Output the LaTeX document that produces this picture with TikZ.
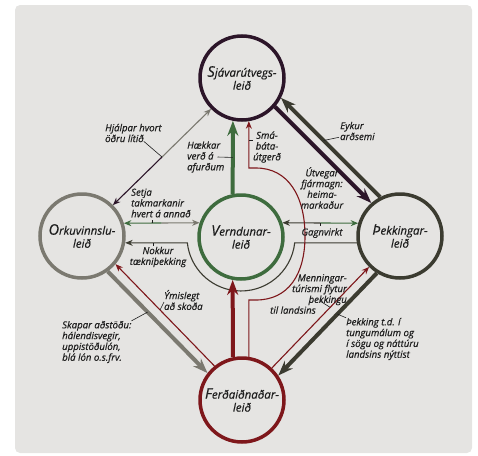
\documentclass[tikz,border=0pt]{standalone}
\usepackage{fontspec}
\setmainfont{Open Sans}[ItalicFeatures={FakeBold=0.5}]
\usetikzlibrary{arrows.meta,calc}
\definecolor{bakgrunnur}{HTML}{E5E4E2}
\definecolor{sjavlitur}{HTML}{2C1529}
\definecolor{orkulitur}{HTML}{7B7970}
\definecolor{vernlitur}{HTML}{3E6C3E}
\definecolor{thekklitur}{HTML}{3B3B30}
\definecolor{ferdlitur}{HTML}{7E171B}
\definecolor{letur}{HTML}{1E1E1E}
\newcommand\stafur[1]{{\fontsize{14.5}{13}\selectfont #1}}

\begin{document}
\begin{tikzpicture}[x=1pt,y=1pt,
    leid/.style={circle,draw,line width=3.5pt,minimum size=84pt,inner sep=0pt,align=center,text=letur,
      font=\fontsize{11.5}{13}\selectfont\itshape},
    skyring/.style={align=left,inner sep=0pt,text=letur,font=\fontsize{9.6}{10.8}\selectfont\itshape},
    thykk/.style={line width=4pt,-{Stealth[length=15pt,width=11pt]}},
    thunn/.style={line width=1.1pt,-{Stealth[length=7.5pt,width=6pt]}},
    vis/.style={line width=.6pt,letur}]
    \useasboundingbox (0,0) rectangle (478,-455);
    \fill[bakgrunnur,rounded corners=5pt] (15,-5) rectangle (472,-453);
    \node[leid,draw=sjavlitur] (sjav) at (242,-78) {\stafur{S}jávarútvegs-\\leið};
    \node[leid,draw=orkulitur] (orku) at (82,-236) {\stafur{O}rkuvinnslu-\\leið};
    \node[leid,draw=vernlitur] (vern) at (241,-237) {\stafur{V}erndunar-\\leið};
    \node[leid,draw=thekklitur] (thek) at (400,-236) {\stafur{Þ}ekkingar-\\leið};
    \node[leid,draw=ferdlitur] (ferd) at (242,-400) {\stafur{F}erðaiðnaðar-\\leið};

    \coordinate (m1) at ($(orku.45)!.5!(sjav.-135)$);
    \draw[thunn,orkulitur] (m1) -- (sjav.-135);
    \draw[thunn,sjavlitur] (m1) -- (orku.45);
    \draw[thykk,thekklitur] (thek.117) -- (sjav.-27);
    \draw[thykk,sjavlitur] (sjav.-41) -- (thek.131);
    \draw[thykk,orkulitur] (orku.-54) -- (ferd.142);
    \draw[thunn,ferdlitur] (ferd.129) -- (orku.-40);
    \draw[thunn,ferdlitur] (ferd.47) -- (thek.225);
    \draw[thykk,thekklitur] (thek.238) -- (ferd.34);

    \coordinate (m2) at ($(orku.17)!.5!(vern.161)$);
    \draw[thunn,vernlitur] (m2) -- (orku.17);
    \draw[thunn,orkulitur] (m2) -- (vern.161);
    \coordinate (m3) at ($(vern.19)!.5!(thek.163)$);
    \draw[thunn,thekklitur] (m3) -- (vern.19);
    \draw[thunn,vernlitur] (m3) -- (thek.163);
    \draw[thunn,thekklitur] (thek.189) -- (294.7,-242.8) arc[start angle=-6.2,end angle=-173.8,radius=54] -- (orku.-9);

    \draw[thykk,vernlitur] (vern.101) -- (sjav.-102);
    \draw[thykk,ferdlitur] (ferd.102) -- (vern.-101);
    \draw[thunn,ferdlitur] (ferd.81) |- (256,-300) .. controls (288,-300) and (305,-275) .. (305,-236)
      .. controls (305,-196) and (288,-168) .. (256,-168) -| (sjav.-81);

    \node[skyring,anchor=west] (lhjal) at (105,-133) {Hjálpar hvort\\öðru lítið};
    \node[skyring,anchor=west] (leyk) at (340,-131) {Eykur\\arðsemi};
    \node[skyring,anchor=west] (lhaek) at (187,-157) {Hækkar\\verð á\\afurðum};
    \node[skyring,align=center] (lsma) at (267,-147) {Smá-\\báta-\\útgerð};
    \node[skyring,align=center] (lutv) at (322,-188) {Útvegar\\fjármagn:\\heima-\\markaður};
    \node[skyring,anchor=west] (lsetj) at (131,-203) {Setja\\takmarkanir\\hvert á annað};
    \node[skyring,align=center] (lnokk) at (158,-257) {Nokkur\\tækniþekking};
    \node[skyring] (lgagn) at (322,-233) {Gagnvirkt};
    \node[skyring,anchor=west] (lymis) at (164,-300) {Ýmislegt\\að skoða};
    \node[skyring,anchor=west] (lskap) at (62,-342) {Skapar aðstöðu:\\hálendisvegir,\\uppistöðulón,\\blá lón o.s.frv.};
    \node[skyring,align=right,anchor=east] (lmenn) at (347,-294) {Menningar-\\túrismi flytur\\þekkingu\hspace*{29pt}\\til landsins\hspace*{31pt}};
    \node[skyring,anchor=west] (lthekk) at (346,-339) {Þekking t.d. í\\tungumálum og\\í sögu og náttúru\\landsins nýttist};

    \draw[vis] ([xshift=-18pt,yshift=1pt]lhjal.south east) -- (m1);
    \draw[vis] ([xshift=-1pt,yshift=3pt]leyk.south west) -- ($(thek.117)!.57!(sjav.-27)$);
    \draw[vis] ([xshift=-7pt]lhaek.east) -- ($(vern.101)!.5!(sjav.-102)$);
    \draw[vis] (lsma.west |- 0,-140) -- +(-4,0);
    \draw[vis] ($(orku.17)!.38!(vern.161)$) -- ++(0,3.5);
    \draw[vis] (153,-242.8) -- ++(0,-3.5);
    \draw[vis] (m3) -- ++(0,-3.5);
    \draw[vis] ([yshift=-2pt]lymis.west) -- ($(ferd.129)!.55!(orku.-40)$);
    \draw[vis] (lskap.north east) -- ($(orku.-54)!.4!(ferd.142)$);
    \draw[vis] (320,-301) -- ($(ferd.47)!.6!(thek.225)$);
    \draw[vis] (lthekk.north west) -- ($(thek.238)!.4!(ferd.34)$);
\end{tikzpicture}
\end{document}
